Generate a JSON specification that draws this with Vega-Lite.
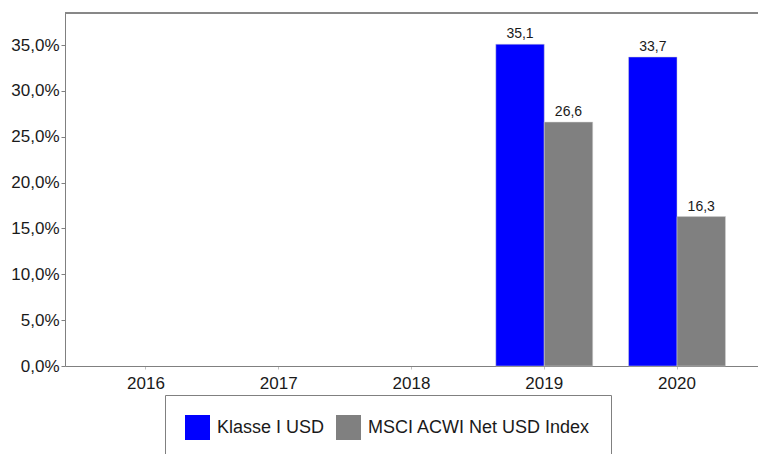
{
  "$schema": "https://vega.github.io/schema/vega-lite/v6.json",
  "width": 693,
  "height": 353,
  "autosize": {"type": "none"},
  "padding": {"left": 65, "top": 13, "right": 0, "bottom": 88},
  "background": "white",
  "config": {"font": "Liberation Sans", "view": {"stroke": null}},
  "data": {"values": [
    {"year": "2019", "series": "Klasse I USD", "value": 35.1},
    {"year": "2019", "series": "MSCI ACWI Net USD Index", "value": 26.6},
    {"year": "2020", "series": "Klasse I USD", "value": 33.7},
    {"year": "2020", "series": "MSCI ACWI Net USD Index", "value": 16.3}
  ]},
  "transform": [{"calculate": "replace(format(datum.value,'.1f'),'.',',')", "as": "label"}],
  "layer": [
    {
      "mark": {"type": "bar", "stroke": "#d0d0d0", "strokeWidth": 0.5},
      "encoding": {
        "x": {"field": "year", "type": "nominal",
          "scale": {"domain": ["2016", "2017", "2018", "2019", "2020"], "paddingInner": 0.27, "paddingOuter": 0.245},
          "axis": {"title": null, "labelAngle": 0, "labelFontSize": 17, "labelColor": "#1a1a1a", "domainColor": "#808080", "tickColor": "#c0c0c0", "tickSize": 3, "labelPadding": 6}},
        "xOffset": {"field": "series", "type": "nominal", "scale": {"paddingInner": 0, "paddingOuter": 0}},
        "y": {"field": "value", "type": "quantitative",
          "scale": {"domain": [0, 38.5], "nice": false},
          "axis": {"title": null, "values": [0, 5, 10, 15, 20, 25, 30, 35], "grid": false,
            "labelExpr": "replace(format(datum.value,'.1f'),'.',',') + '%'",
            "labelFontSize": 17, "labelColor": "#1a1a1a", "domainColor": "#808080", "tickColor": "#808080", "tickSize": 4, "labelPadding": 2}},
        "color": {"field": "series", "type": "nominal",
          "scale": {"domain": ["Klasse I USD", "MSCI ACWI Net USD Index"], "range": ["#0000ff", "#808080"]},
          "legend": {"orient": "none", "legendX": 100, "legendY": 382, "direction": "horizontal", "title": null,
            "symbolType": "square", "symbolSize": 625, "symbolStrokeWidth": 0, "symbolOpacity": 1,
            "labelFontSize": 18, "labelColor": "#1a1a1a", "labelOffset": 7, "columnPadding": 11, "labelLimit": 400,
            "padding": 20, "strokeColor": "#808080", "fillColor": "white"}}
      }
    },
    {
      "mark": {"type": "text", "baseline": "bottom", "dy": -3, "fontSize": 14, "color": "#1a1a1a"},
      "encoding": {
        "x": {"field": "year", "type": "nominal"},
        "xOffset": {"field": "series", "type": "nominal"},
        "y": {"field": "value", "type": "quantitative"},
        "text": {"field": "label", "type": "nominal"}
      }
    },
    {
      "mark": {"type": "rule", "color": "#808080"},
      "encoding": {"y": {"datum": 38.5}}
    }
  ]
}
